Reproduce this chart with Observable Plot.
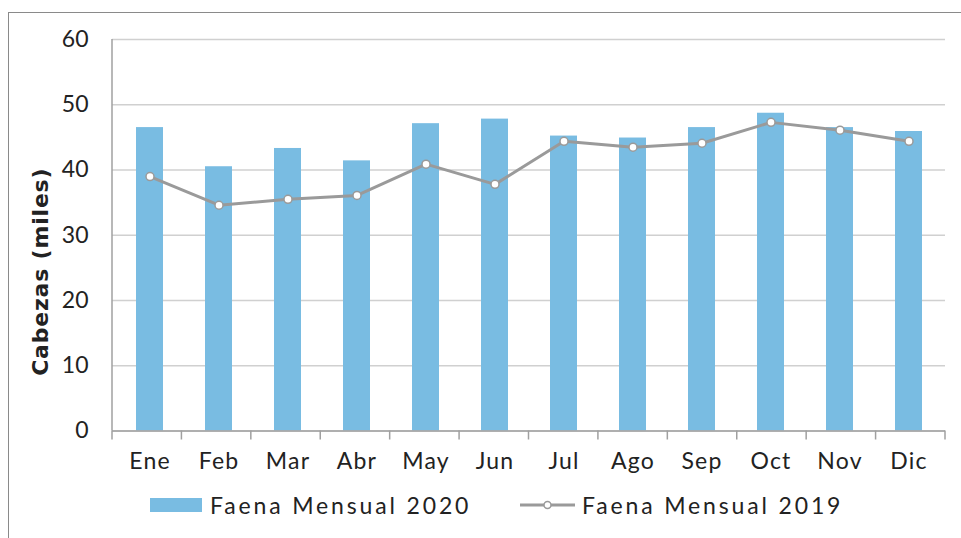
<!DOCTYPE html>
<html><head><meta charset="utf-8">
<script src="https://cdn.jsdelivr.net/npm/d3@7"></script>
<script src="https://cdn.jsdelivr.net/npm/@observablehq/plot@0.6"></script>
<style>
html,body{margin:0;padding:0;background:#fff;overflow:hidden;width:961px;height:538px;}
#frame{position:absolute;left:8px;top:12px;width:1000px;height:560px;border:1.5px solid #8a8a8a;box-sizing:border-box;}
#chart{position:absolute;left:0;top:0;}
.item{position:absolute;top:491px;height:28px;display:flex;align-items:center;font-family:Lato,sans-serif;font-size:23px;color:#222;letter-spacing:2.85px;white-space:nowrap;}
.sw{width:52px;height:14px;background:#79bce2;margin-right:8px;}
</style></head>
<body>
<div id="frame"></div>
<div id="chart"></div>
<div id="legend"></div>
<script>
const months = ["Ene","Feb","Mar","Abr","May","Jun","Jul","Ago","Sep","Oct","Nov","Dic"];
const faena2020 = [46.5, 40.5, 43.3, 41.4, 47.1, 47.8, 45.2, 44.9, 46.5, 48.7, 46.5, 45.9];
const faena2019 = [39.0, 34.6, 35.5, 36.1, 40.9, 37.8, 44.4, 43.5, 44.1, 47.3, 46.1, 44.4];
const yTicks = [0, 10, 20, 30, 40, 50, 60];
const yLabel = "Cabezas (miles)";
const series = ["Faena Mensual 2020", "Faena Mensual 2019"];

const data = months.map((m, i) => ({month: m, v2020: faena2020[i], v2019: faena2019[i]}));
const axisColor = "#a0a0a0";

function axisFrame(index, scales, values, dims) {
  const g = d3.create("svg:g");
  const left = dims.marginLeft, right = dims.width - dims.marginRight;
  const top = dims.marginTop, bottom = dims.height - dims.marginBottom;
  const step = (right - left) / months.length;
  g.append("line").attr("x1", left).attr("x2", left).attr("y1", top).attr("y2", bottom)
    .attr("stroke", axisColor).attr("stroke-width", 1.5);
  for (let i = 0; i <= months.length; i++) {
    const x = left + i * step;
    g.append("line").attr("x1", x).attr("x2", x).attr("y1", bottom).attr("y2", bottom + 9)
      .attr("stroke", axisColor).attr("stroke-width", 1.5);
  }
  return g.node();
}

const chart = Plot.plot({
  width: 961, height: 485,
  marginLeft: 112, marginRight: 16, marginTop: 39, marginBottom: 54.5,
  style: {fontFamily: "Lato, sans-serif", fontSize: "23px", color: "#222", background: "transparent"},
  x: {domain: months, paddingInner: 0.61, paddingOuter: 0.305, axis: null},
  y: {domain: [0, 60], axis: null},
  marks: [
    Plot.gridY(yTicks, {stroke: "#d0d0d0", strokeOpacity: 1, strokeWidth: 1.5}),
    Plot.barY(data, {x: "month", y: "v2020", fill: "#79bce2"}),
    Plot.ruleY([0], {stroke: axisColor, strokeWidth: 1.5}),
    axisFrame,
    Plot.axisY(yTicks, {tickSize: 0, tickPadding: 24, fontSize: 23, fill: "#222", label: null}),
    Plot.axisX({tickSize: 0, tickPadding: 21.5, fontSize: 23, fill: "#222", label: null}),
    Plot.line(data, {x: "month", y: "v2019", stroke: "#9a9a9a", strokeWidth: 3}),
    Plot.dot(data, {x: "month", y: "v2019", r: 4, fill: "white", stroke: "#9a9a9a", strokeWidth: 1.5}),
    Plot.text([yLabel], {frameAnchor: "left", textAnchor: "middle", rotate: -90, dx: -72, dy: 36.5, fontWeight: "bold", fontSize: 22, fontFamily: "DejaVu Sans", fill: "#222"})
  ]
});
chart.querySelectorAll('g[aria-label="x-axis tick label"] text').forEach(t => t.style.letterSpacing = "1.2px");
chart.querySelectorAll('g[aria-label="text"] text').forEach(t => t.style.letterSpacing = "0.8px");
document.getElementById("chart").appendChild(chart);

const legend = document.getElementById("legend");
legend.innerHTML = `
  <div class="item" style="left:150px"><div class="sw"></div><span>${series[0]}</span></div>
  <div class="item" style="left:520px">
    <svg width="55" height="14" style="margin-right:7px"><line x1="0" x2="55" y1="7" y2="7" stroke="#9a9a9a" stroke-width="3"/><circle cx="27.5" cy="7" r="3.5" fill="white" stroke="#9a9a9a" stroke-width="1.5"/></svg>
    <span>${series[1]}</span></div>`;
</script>
</body></html>
